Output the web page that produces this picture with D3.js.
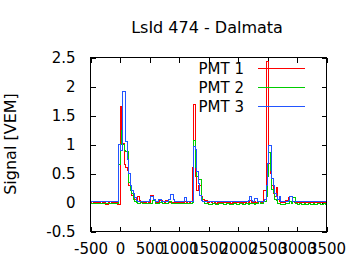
<!DOCTYPE html>
<html>
<head>
<meta charset="utf-8">
<script src="https://cdn.jsdelivr.net/npm/d3@7"></script>
<style>
  body { margin: 0; background: #fff; }
  text { font-family: 'DejaVu Sans', sans-serif; fill: #000; }
</style>
</head>
<body>
<div id="chart"></div>
<script>
// 25 ns bins starting at t = -500
let binStart = -500
let binWidth = 25

let pmt1 = [
  0, 0.01, 0, 0, -0.01, 0, 0, 0.01, 0, 0,
  -0.035, -0.035, 0, 0.01, 0, 0, 0.01, 0, -0.03, -0.03,
  1.65, 1.02, 1.02, 0.65, 0.6, 0.55, 0.3, 0.2, 0.12, 0.1,
  0.05, 0.02, 0.1, 0.03, 0, 0.01, 0, 0, 0.02, 0,
  0, 0.12, 0.12, 0.03, 0.01, 0, 0, 0.03, 0.03, 0.01,
  0, 0.03, 0.03, 0, 0.01, 0, -0.01, 0, 0.01, 0,
  0, 0.01, 0, 0, 0.02, 0, 0.01, 0, 0.02, 0.61,
  1.69, 0.45, 0.2, 0.3, 0.3, 0.1, 0.05, 0.02, 0.03, 0,
  0, 0.02, 0, 0.01, 0, -0.01, 0, 0, 0.01, 0,
  0, 0, 0.01, 0, 0, -0.02, 0, 0, 0.01, 0,
  0.01, 0, 0, -0.01, 0, 0, 0.02, 0, 0.03, 0,
  0, 0.01, 0, 0, 0.01, 0, 0, 0.21, 0.21, 2.43,
  2.43, 0.68, 0.5, 0.3, 0.15, 0.1, 0.26, 0.05, 0.02, 0,
  0.01, 0, 0.03, 0.03, 0.08, 0.02, 0, 0.01, 0, 0,
  0.01, 0, 0, 0.01, 0, 0, 0, 0.01, 0, 0,
  0, 0.01, 0, 0, 0, 0.01, 0, 0, 0, 0
]

let pmt2 = [
  -0.02, -0.02, -0.01, -0.02, -0.02, -0.01, -0.02, -0.02, -0.02, -0.01,
  -0.02, -0.02, -0.01, -0.02, -0.02, -0.01, -0.02, -0.02, -0.02, 0.66,
  1.0, 1.25, 1.0, 0.9, 0.88, 0.88, 0.35, 0.2, 0.15, 0.05,
  0.02, 0, -0.02, -0.02, 0.02, -0.02, -0.02, -0.01, -0.02, -0.02,
  -0.02, -0.01, 0.03, 0.03, -0.02, -0.02, -0.02, 0, 0, -0.02,
  -0.02, -0.02, -0.01, 0.02, 0.02, -0.02, -0.02, -0.02, -0.01, -0.02,
  -0.02, -0.02, -0.02, -0.01, -0.02, -0.02, -0.01, -0.02, -0.02, 0,
  1.07, 0.6, 0.45, 0.4, 0.4, 0.08, 0.02, -0.02, -0.02, -0.02,
  -0.03, -0.03, -0.03, -0.02, -0.02, -0.03, -0.03, -0.02, -0.02, -0.02,
  -0.03, -0.03, -0.02, -0.02, -0.03, -0.03, -0.03, -0.02, -0.02, -0.03,
  -0.03, -0.02, -0.02, -0.03, -0.03, -0.02, -0.02, -0.03, -0.02, -0.02,
  -0.02, -0.03, -0.02, -0.02, 0.01, -0.02, -0.02, 0.02, 0.02, 0.1,
  0.45, 0.87, 0.55, 0.22, 0.17, 0.05, 0.03, -0.02, -0.02, -0.03,
  -0.03, -0.03, -0.02, -0.02, -0.02, 0.02, -0.02, 0.08, 0.08, -0.02,
  -0.03, -0.03, -0.02, -0.03, -0.03, -0.02, -0.03, -0.03, -0.02, -0.03,
  -0.03, -0.02, -0.03, -0.03, -0.02, -0.02, -0.03, -0.03, -0.02, -0.03
]

let pmt3 = [
  0.01, 0.01, 0.02, 0.01, 0.01, 0.02, 0.01, 0.01, 0.02, 0.01,
  0.01, 0.02, 0.01, 0.01, 0.02, 0.01, 0.01, 0.02, 0.01, 1.0,
  0.9, 0.9, 1.92, 1.92, 1.05, 0.75, 0.5, 0.3, 0.2, 0.15,
  0.08, 0.04, 0.02, 0.01, 0.02, 0.01, 0.01, 0.02, 0.01, 0.01,
  0.05, 0.11, 0.11, 0.05, 0.02, 0.01, 0.06, 0.06, 0.02, 0.01,
  0.01, 0.02, 0.01, 0.05, 0.13, 0.13, 0.05, 0.01, 0.02, 0.01,
  0.01, 0.02, 0.01, 0.01, 0.08, 0.01, 0.02, 0.01, 0.01, 0.02,
  0.97, 0.92, 0.54, 0.33, 0.12, 0.03, 0.02, 0.01, 0.02, 0.01,
  0.01, 0.02, 0.01, 0.01, 0.02, 0.01, 0.01, 0.02, 0.01, 0.01,
  0.02, 0.01, 0.01, 0.02, 0.01, 0.01, 0.02, 0.01, 0.01, 0.02,
  0.01, 0.01, 0.02, 0.01, 0.01, 0.02, 0.01, 0.03, 0.11, 0.03,
  0.02, 0.07, 0.07, 0.02, 0.01, 0.02, 0.01, 0.02, 0.05, 0.3,
  0.67, 0.99, 0.99, 0.42, 0.3, 0.15, 0.1, 0.05, 0.1, 0.02,
  0.01, 0.02, 0.01, 0.02, 0.03, 0.1, 0.1, 0.02, 0.01, 0.02,
  0.01, 0.01, 0.02, 0.01, 0.01, 0.02, 0.01, 0.01, 0.02, 0.01,
  0.01, 0.02, 0.01, 0.01, 0.02, 0.01, 0.01, 0.02, 0.01, 0.01
]

let seriesNames = ['PMT 1', 'PMT 2', 'PMT 3']
let seriesColors = ['#ff0000', '#00cc00', '#2255ff']
let xTicks = [-500, 0, 500, 1000, 1500, 2000, 2500, 3000, 3500]
let yTicks = [-0.5, 0, 0.5, 1, 1.5, 2, 2.5]

let title = 'LsId 474 - Dalmata'
let yLabel = 'Signal [VEM]'

let width = 360
let height = 270
let plot = { left: 90.5, right: 326.5, top: 57.5, bottom: 231.5 }

let svg = d3
  .select('#chart')
  .append('svg')
  .attr('width', width)
  .attr('height', height)

let xPositionScale = d3
  .scaleLinear()
  .domain([-500, 3500])
  .range([plot.left, plot.right])
let yPositionScale = d3
  .scaleLinear()
  .domain([-0.5, 2.5])
  .range([plot.bottom, plot.top])

// turn a bin array into step points, with a closing point at the end
function toPoints(values) {
  let pts = values.map((v, i) => ({ t: binStart + i * binWidth, v: v }))
  pts.push({ t: binStart + values.length * binWidth, v: values[values.length - 1] })
  return pts
}

let line = d3
  .line()
  .curve(d3.curveStepAfter)
  .x(d => xPositionScale(d.t))
  .y(d => yPositionScale(d.v))

// axes, gnuplot style: ticks inside on all four sides
// plain hyphen for negatives, like gnuplot
let xAxis = d3
  .axisBottom(xPositionScale)
  .tickValues(xTicks)
  .tickSize(-5)
  .tickPadding(12)
  .tickFormat(d => String(d))
svg
  .append('g')
  .attr('class', 'axis x-axis')
  .attr('transform', 'translate(0,' + plot.bottom + ')')
  .call(xAxis)

svg
  .append('g')
  .attr('class', 'axis x-axis-top')
  .attr('transform', 'translate(0,' + plot.top + ')')
  .call(d3.axisTop(xPositionScale).tickValues(xTicks).tickSize(-5).tickFormat(''))

let yAxis = d3
  .axisLeft(yPositionScale)
  .tickValues(yTicks)
  .tickSize(-5)
  .tickPadding(15)
  .tickFormat(d => String(d))
svg
  .append('g')
  .attr('class', 'axis y-axis')
  .attr('transform', 'translate(' + plot.left + ',0)')
  .call(yAxis)

svg
  .append('g')
  .attr('class', 'axis y-axis-right')
  .attr('transform', 'translate(' + plot.right + ',0)')
  .call(d3.axisRight(yPositionScale).tickValues(yTicks).tickSize(-5).tickFormat(''))

svg.selectAll('.axis .domain').remove()
svg
  .selectAll('.axis line')
  .attr('stroke', '#000')
  .attr('shape-rendering', 'crispEdges')
svg
  .selectAll('.axis text')
  .attr('font-size', 15)
  .attr('font-family', 'DejaVu Sans, sans-serif')
  .attr('fill', '#000')

// data + legend, drawn in plot order like gnuplot
let traces = [pmt1, pmt2, pmt3]
let keyRight = 244
let keyLineX = [258, 305]

traces.forEach((values, k) => {
  let keyY = 68.5 + k * 19
  svg
    .append('text')
    .attr('x', keyRight)
    .attr('y', keyY)
    .attr('dy', '0.35em')
    .attr('text-anchor', 'end')
    .attr('font-size', 15)
    .text(seriesNames[k])
  svg
    .append('line')
    .attr('x1', keyLineX[0])
    .attr('x2', keyLineX[1])
    .attr('y1', keyY)
    .attr('y2', keyY)
    .attr('stroke', seriesColors[k])
    .attr('stroke-width', 1)
    .attr('shape-rendering', 'crispEdges')

  svg
    .append('path')
    .datum(toPoints(values))
    .attr('d', line)
    .attr('fill', 'none')
    .attr('stroke', seriesColors[k])
    .attr('stroke-width', 1)
    .attr('shape-rendering', 'crispEdges')
})

// frame
svg
  .append('rect')
  .attr('x', plot.left)
  .attr('y', plot.top)
  .attr('width', plot.right - plot.left)
  .attr('height', plot.bottom - plot.top)
  .attr('fill', 'none')
  .attr('stroke', '#000')
  .attr('shape-rendering', 'crispEdges')

svg
  .append('text')
  .attr('x', 207)
  .attr('y', 33)
  .attr('text-anchor', 'middle')
  .attr('font-size', 16)
  .text(title)

svg
  .append('text')
  .attr('transform', 'translate(16,144) rotate(-90)')
  .attr('text-anchor', 'middle')
  .attr('font-size', 16)
  .text(yLabel)
</script>
</body>
</html>
